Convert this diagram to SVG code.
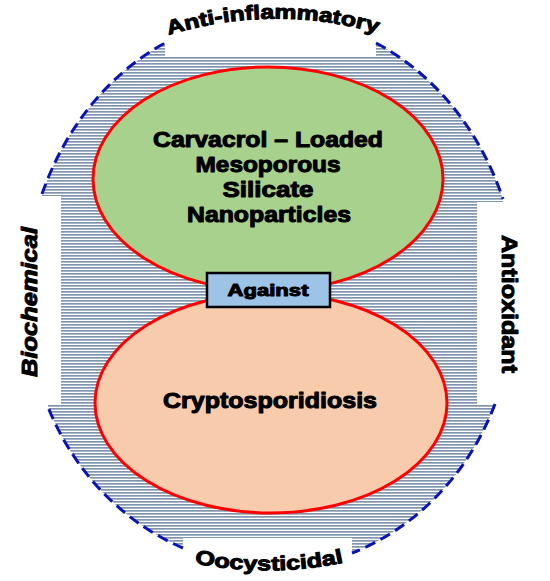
<svg xmlns="http://www.w3.org/2000/svg" width="550" height="581" viewBox="0 0 550 581">
<style>
.lbl{font-family:"Liberation Sans",Arial,sans-serif;font-weight:bold;fill:#000;stroke:#000;stroke-width:1;stroke-linejoin:round;text-anchor:middle}
.dash{fill:none;stroke:#0a14b4;stroke-width:3;stroke-dasharray:11,6}
.ell{stroke:#ff0000;stroke-width:3}
</style>
<defs>
<pattern id="hatch" width="6" height="3" patternUnits="userSpaceOnUse">
<rect x="0" y="0" width="6" height="1.7" fill="#8194ad"/>
</pattern>
<path id="topArc" d="M166,36 A360,360 0 0 1 380,34"/>
<path id="botArc" d="M192,563 A380,380 0 0 0 346,562"/>
</defs>
<g id="ring">
<path d="M42,194 A245,285 0 0 1 165,43 L165,57 L376,57 L376,43 A245,285 0 0 1 503,199 L503,202 L477,202 L477,404 L495,404 A245,265 0 0 1 352,553 L352,538 L183,538 L183,548 A245,265 0 0 1 48,407 L48,404 L61,404 L61,196 L42,196 Z" fill="url(#hatch)"/>
</g>
<g id="connectors">
<path class="dash" d="M42,194 A245,285 0 0 1 165,43"/>
<path class="dash" d="M376,43 A245,285 0 0 1 503,199"/>
<path class="dash" d="M495,404 A245,265 0 0 1 352,553"/>
<path class="dash" d="M183,548 A245,265 0 0 1 48,407"/>
</g>
<g id="cure">
<ellipse class="ell" cx="268" cy="179" rx="175" ry="112" fill="#a9d18e"/>
<text class="lbl" font-size="21.5" x="268" y="147" textLength="230" lengthAdjust="spacingAndGlyphs">Carvacrol – Loaded</text>
<text class="lbl" font-size="21.5" x="268" y="172" textLength="145" lengthAdjust="spacingAndGlyphs">Mesoporous</text>
<text class="lbl" font-size="21.5" x="268" y="197" textLength="91" lengthAdjust="spacingAndGlyphs">Silicate</text>
<text class="lbl" font-size="21.5" x="269" y="222" textLength="164" lengthAdjust="spacingAndGlyphs">Nanoparticles</text>
</g>
<g id="disease">
<ellipse class="ell" cx="271" cy="403" rx="176" ry="110" fill="#f8cbad"/>
<text class="lbl" font-size="21.5" x="270" y="408" textLength="214" lengthAdjust="spacingAndGlyphs">Cryptosporidiosis</text>
</g>
<g id="against">
<rect x="207" y="273" width="123" height="34" fill="#9dc3e6" stroke="#000" stroke-width="2.5"/>
<text class="lbl" font-size="16.5" x="268" y="296" textLength="81" lengthAdjust="spacingAndGlyphs">Against</text>
</g>
<g id="anti-inflammatory">
<text class="lbl" font-size="20"><textPath href="#topArc" startOffset="50%" textLength="212" lengthAdjust="spacingAndGlyphs">Anti-inflammatory</textPath></text>
</g>
<g id="oocysticidal">
<text class="lbl" font-size="20"><textPath href="#botArc" startOffset="50%" textLength="150" lengthAdjust="spacingAndGlyphs">Oocysticidal</textPath></text>
</g>
<g id="biochemical">
<text class="lbl" font-size="22" font-style="italic" transform="translate(37,302) rotate(-90)" x="0" y="0" textLength="150" lengthAdjust="spacingAndGlyphs">Biochemical</text>
</g>
<g id="antioxidant">
<text class="lbl" font-size="22" transform="translate(502,304) rotate(90)" x="0" y="0" textLength="138" lengthAdjust="spacingAndGlyphs">Antioxidant</text>
</g>
</svg>
